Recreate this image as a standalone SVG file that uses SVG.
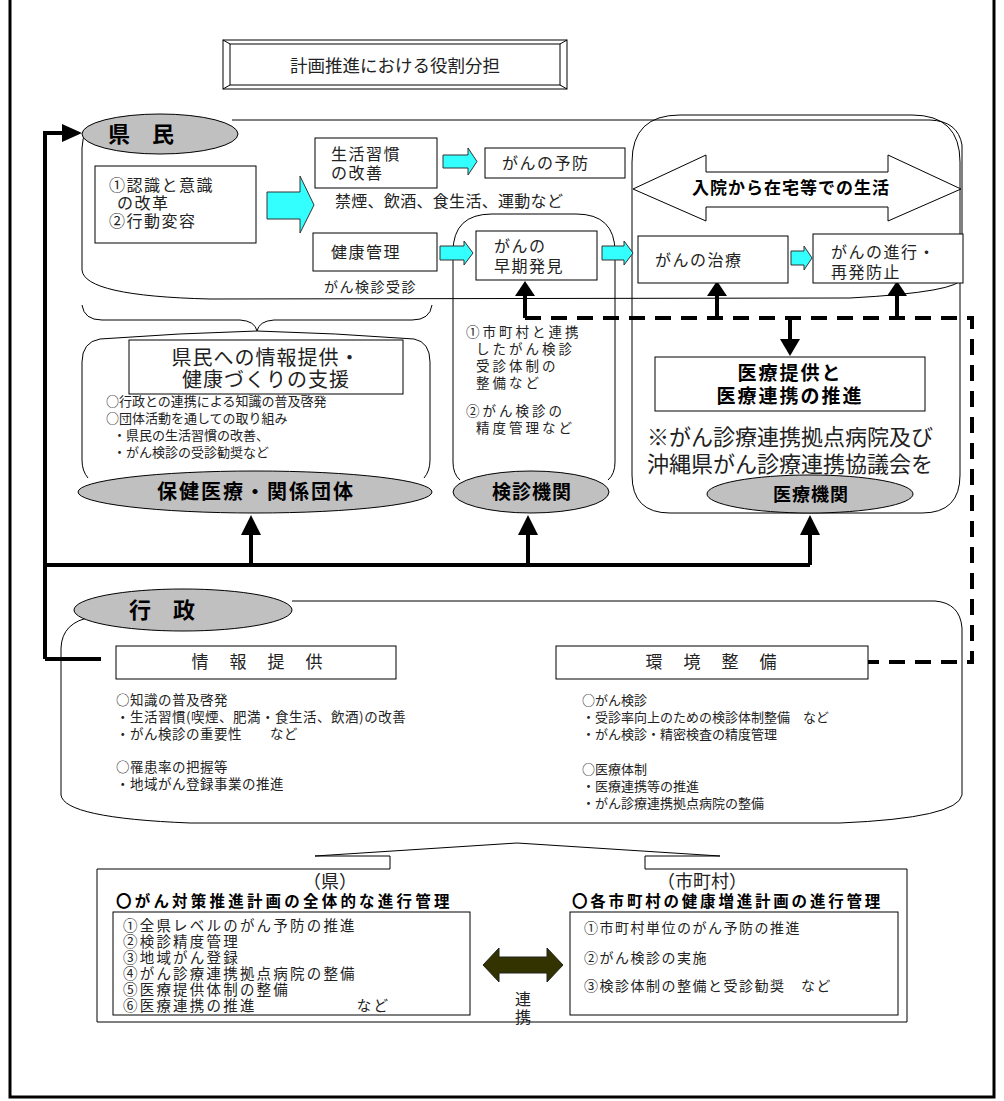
<svg xmlns="http://www.w3.org/2000/svg" width="1004" height="1101" viewBox="0 0 1004 1101">
<style>
text{font-family:"Noto Sans CJK JP","Noto Sans CJK SC",sans-serif;fill:#222}
.b{font-weight:bold;fill:#000}
.box{fill:#fff;stroke:#000;stroke-width:1}
.ln{fill:none;stroke:#000;stroke-width:1}
.cy{fill:#33ffff;stroke:#333;stroke-width:1}
.ov{fill:#c0c0c0;stroke:#000;stroke-width:1}
.thk{fill:none;stroke:#000;stroke-width:4}
.dsh{fill:none;stroke:#000;stroke-width:4;stroke-dasharray:16 10}
.tri{fill:#000}
.m16{font-size:16px;letter-spacing:1.5px}
.s13{font-size:13px}
.s135{font-size:13.5px;letter-spacing:0.5px}
.s14{font-size:14px;letter-spacing:1.5px}
.s145{font-size:14.5px;letter-spacing:2.2px}
.k{font-size:13.5px;letter-spacing:3px}
</style>

<!-- outer frame -->
<path class="ln" style="stroke-width:3" d="M10,-5 V1097 H994 V-5"/>

<!-- title -->
<g id="title">
<rect x="223" y="40" width="344" height="49" fill="#fff" stroke="#000"/>
<rect x="230" y="44" width="330" height="41" fill="none" stroke="#000"/>
<path class="ln" d="M223,40 L230,44 M567,40 L560,44 M223,89 L230,85 M567,89 L560,85"/>
<text x="395" y="72" font-size="17.5" text-anchor="middle">計画推進における役割分担</text>
</g>

<!-- regions -->
<g id="kenmin-region">
<path class="ln" d="M232,120 L930,120 Q958,121 962,145 L962,278 Q960,292 850,298 L210,299 Q84,296 82,270 L82,148 Q82,128 100,124"/>
</g>
<g id="brace">
<path class="ln" d="M82,305 Q84,320 102,320 L240,320 Q255,321 257,331 Q259,321 274,320 L412,320 Q430,320 432,305"/>
</g>
<g id="hoken-region">
<path class="ln" d="M88,478 Q82,471 82,460 L82,362 Q82,342 100,339 Q180,333 257,331 Q335,333 414,339 Q430,342 430,362 L430,460 Q430,471 424,478"/>
</g>
<g id="kenshin-region">
<path class="ln" d="M460,480 Q453,474 453,462 L453,252 Q453,214 492,214 L576,214 Q615,214 615,252 L615,462 Q615,474 608,480"/>
</g>
<g id="iryo-region">
<path class="ln" d="M632,475 L632,162 Q632,115 680,115 L912,115 Q960,115 960,162 L960,475 Q960,513 922,513 L670,513 Q632,513 632,475 Z"/>
</g>
<g id="gyosei-region">
<path class="ln" d="M292,601 L935,601 Q960,603 962,628 L962,795 Q958,818 840,823 L190,823 Q64,818 61,795 L61,648 Q62,622 92,617"/>
</g>

<!-- connectors -->
<g id="connectors">
<path class="thk" d="M45,659 V133 H63"/>
<polygon class="tri" points="62,124 82,133 62,142"/>
<path class="thk" d="M45,659 H101"/>
<path class="thk" d="M45,565 H810 M251,565 V533 M528,565 V533 M810,565 V533"/>
<polygon class="tri" points="241,535 251,515 261,535"/>
<polygon class="tri" points="518,535 528,515 538,535"/>
<polygon class="tri" points="800,535 810,515 820,535"/>
<path class="thk" d="M525,296 V318 M717,296 V318 M897,296 V318 M790,318 V340"/>
<path class="dsh" d="M525,318 H972 V662 H868"/>
<polygon class="tri" points="515,296 525,281 535,296"/>
<polygon class="tri" points="707,296 717,281 727,296"/>
<polygon class="tri" points="887,296 897,281 907,296"/>
<polygon class="tri" points="780,339 800,339 790,356"/>
<!-- cyan arrows -->
<polygon class="cy" points="267,192 300,192 300,176 314,205 300,233 300,219 267,219"/>
<polygon class="cy" points="443,155 468,155 468,148 477,161.5 468,175 468,168 443,168"/>
<polygon class="cy" points="440,246 464,246 464,241 473,253 464,265 464,260 440,260"/>
<polygon class="cy" points="602,246 624,246 624,241 633,253 624,265 624,260 602,260"/>
<polygon class="cy" points="791,251 804,251 804,246 812,258 804,270 804,265 791,265"/>
</g>

<!-- kenmin nodes -->
<g id="kenmin">
<ellipse class="ov" cx="160" cy="134" rx="78" ry="20"/>
<text class="b" x="141" y="142" font-size="22" text-anchor="middle">県　民</text>
</g>
<g id="ishiki">
<rect class="box" x="95" y="166" width="161" height="77"/>
<text class="m16"><tspan x="109" y="191">①認識と意識</tspan><tspan x="117" dy="18">の改革</tspan><tspan x="109" dy="18">②行動変容</tspan></text>
</g>
<g id="seikatsu">
<rect class="box" x="315" y="138" width="122" height="50"/>
<text class="m16"><tspan x="331" y="160">生活習慣</tspan><tspan x="331" dy="19">の改善</tspan></text>
<text x="335" y="207" font-size="16" letter-spacing="0.3">禁煙、飲酒、食生活、運動など</text>
</g>
<g id="yobou">
<rect class="box" x="485" y="148" width="140" height="30"/>
<text class="m16" x="502" y="169">がんの予防</text>
</g>
<g id="kenko">
<rect class="box" x="313" y="233" width="124" height="38"/>
<text class="m16" x="331" y="258">健康管理</text>
<text class="s14" x="324" y="292">がん検診受診</text>
</g>
<g id="souki">
<rect class="box" x="476" y="231" width="121" height="49"/>
<text class="m16"><tspan x="494" y="252">がんの</tspan><tspan x="494" dy="20">早期発見</tspan></text>
</g>
<g id="nyuin">
<polygon fill="#fff" stroke="#000" points="633,189 706,155 706,172 888,172 888,155 961,189 888,221 888,207 706,207 706,221"/>
<text class="b" x="791" y="194" font-size="17" text-anchor="middle" letter-spacing="1">入院から在宅等での生活</text>
</g>
<g id="chiryo">
<rect class="box" x="638" y="236" width="150" height="47"/>
<text class="m16" x="655" y="266">がんの治療</text>
</g>
<g id="shinko">
<rect class="box" x="813" y="234" width="150" height="49"/>
<text class="m16"><tspan x="831" y="258">がんの進行・</tspan><tspan x="831" dy="20">再発防止</tspan></text>
</g>

<!-- hoken -->
<g id="hoken">
<rect class="box" x="129" y="340" width="274" height="54"/>
<text font-size="20" text-anchor="middle" letter-spacing="1"><tspan x="266" y="365">県民への情報提供・</tspan><tspan x="266" dy="22">健康づくりの支援</tspan></text>
<text class="s13"><tspan x="106" y="406">○行政との連携による知識の普及啓発</tspan><tspan x="106" dy="17">○団体活動を通しての取り組み</tspan><tspan x="113" dy="17">・県民の生活習慣の改善、</tspan><tspan x="113" dy="17">・がん検診の受診勧奨など</tspan></text>
<ellipse class="ov" cx="255" cy="492" rx="177" ry="21"/>
<text class="b" x="256" y="499" font-size="20" text-anchor="middle" letter-spacing="2">保健医療・関係団体</text>
</g>
<g id="kenshin">
<text class="k"><tspan x="466" y="337">①市町村と連携</tspan><tspan x="476" dy="17">したがん検診</tspan><tspan x="476" dy="17">受診体制の</tspan><tspan x="476" dy="17">整備など</tspan><tspan x="466" dy="28">②がん検診の</tspan><tspan x="476" dy="17">精度管理など</tspan></text>
<ellipse class="ov" cx="531" cy="492" rx="78" ry="21"/>
<text class="b" x="532" y="499" font-size="19" text-anchor="middle" letter-spacing="1">検診機関</text>
</g>
<g id="iryo">
<rect class="box" x="655" y="357" width="270" height="54"/>
<text class="b" font-size="19" text-anchor="middle" letter-spacing="2"><tspan x="790" y="380">医療提供と</tspan><tspan x="790" dy="23">医療連携の推進</tspan></text>
<text font-size="22"><tspan x="647" y="445">※がん診療連携拠点病院及び</tspan><tspan x="647" dy="27">沖縄県がん診療連携協議会を</tspan></text>
<ellipse class="ov" cx="810" cy="494" rx="103" ry="19"/>
<text class="b" x="811" y="501" font-size="18" text-anchor="middle" letter-spacing="1">医療機関</text>
</g>

<!-- gyosei -->
<g id="gyosei">
<ellipse class="ov" cx="183" cy="610" rx="109" ry="21"/>
<text class="b" x="162" y="618" font-size="22" text-anchor="middle">行　政</text>
</g>
<g id="joho">
<rect class="box" x="116" y="646" width="280" height="33"/>
<text x="258" y="668" font-size="17" text-anchor="middle" letter-spacing="2">情　報　提　供</text>
<text class="s135"><tspan x="116" y="705">○知識の普及啓発</tspan><tspan x="116" dy="17">・生活習慣(喫煙、肥満・食生活、飲酒)の改善</tspan><tspan x="116" dy="17">・がん検診の重要性　　など</tspan><tspan x="116" dy="33">○罹患率の把握等</tspan><tspan x="116" dy="17">・地域がん登録事業の推進</tspan></text>
</g>
<g id="kankyo">
<rect class="box" x="556" y="646" width="312" height="33"/>
<text x="712" y="668" font-size="17" text-anchor="middle" letter-spacing="2">環　境　整　備</text>
<text class="s13"><tspan x="582" y="705">○がん検診</tspan><tspan x="582" dy="17">・受診率向上のための検診体制整備　など</tspan><tspan x="582" dy="17">・がん検診・精密検査の精度管理</tspan><tspan x="582" dy="35">○医療体制</tspan><tspan x="582" dy="17">・医療連携等の推進</tspan><tspan x="582" dy="17">・がん診療連携拠点病院の整備</tspan></text>
</g>

<!-- bottom -->
<g id="bottom">
<path class="ln" d="M390,869 V856 H315 L517,843 L720,856 H645 V869 H907 V1022 H97 V869 Z"/>
</g>
<g id="ken">
<text x="330" y="888" font-size="18" text-anchor="middle">（県）</text>
<text class="b" x="116" y="907" font-size="15.5" letter-spacing="3.2">〇がん対策推進計画の全体的な進行管理</text>
<rect class="box" x="113" y="912" width="357" height="103"/>
<text class="s145"><tspan x="123" y="931">①全県レベルのがん予防の推進</tspan><tspan x="123" dy="16">②検診精度管理</tspan><tspan x="123" dy="16">③地域がん登録</tspan><tspan x="123" dy="16">④がん診療連携拠点病院の整備</tspan><tspan x="123" dy="16">⑤医療提供体制の整備</tspan><tspan x="123" dy="16">⑥医療連携の推進　　　　　　など</tspan></text>
</g>
<g id="renkei">
<polygon fill="#333300" stroke="#222" points="483,965 499,948 499,957 547,957 547,948 563,965 547,982 547,973 499,973 499,982"/>
<text x="523" y="991" font-size="16" writing-mode="vertical-rl" letter-spacing="2">連携</text>
</g>
<g id="shichoson">
<text x="702" y="888" font-size="18" text-anchor="middle">（市町村）</text>
<text class="b" x="572" y="907" font-size="15.5" letter-spacing="2.8">〇各市町村の健康増進計画の進行管理</text>
<rect class="box" x="570" y="912" width="328" height="103"/>
<text class="s14"><tspan x="584" y="933">①市町村単位のがん予防の推進</tspan><tspan x="584" dy="30">②がん検診の実施</tspan><tspan x="584" dy="28">③検診体制の整備と受診勧奨　など</tspan></text>
</g>
</svg>
